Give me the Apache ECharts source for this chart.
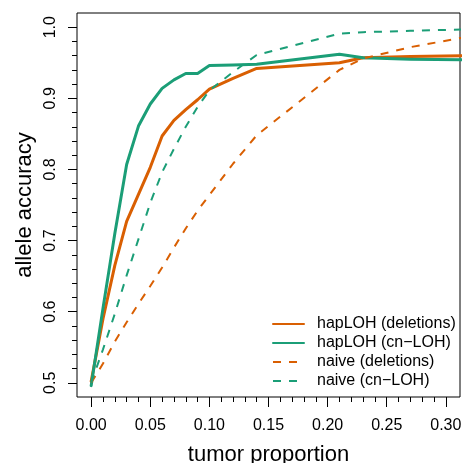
<!DOCTYPE html>
<html><head><meta charset="utf-8">
<script src="https://cdn.jsdelivr.net/npm/echarts@6/dist/echarts.min.js"></script>
<style>html,body{margin:0;padding:0;background:#fff}#c{width:464px;height:463px}</style>
</head><body><div id="c"></div>
<script>
// tumor proportion (x)
const tumorProportion = [0, 0.01, 0.02, 0.03, 0.04, 0.05, 0.06, 0.07, 0.08, 0.09, 0.10, 0.12, 0.14, 0.21, 0.23, 0.27, 0.32];
// allele accuracy per method
const hapDeletions = [0.502, 0.59, 0.665, 0.727, 0.765, 0.803, 0.847, 0.869, 0.884, 0.898, 0.913, 0.928, 0.942, 0.950, 0.957, 0.959, 0.960];
const hapCnLoh     = [0.496, 0.605, 0.71, 0.807, 0.861, 0.892, 0.914, 0.926, 0.935, 0.935, 0.946, 0.947, 0.948, 0.962, 0.957, 0.955, 0.954];
const naiveDeletions = [0.5, 0.527, 0.558, 0.585, 0.611, 0.636, 0.662, 0.69, 0.717, 0.742, 0.764, 0.808, 0.848, 0.940, 0.956, 0.972, 0.987];
const naiveCnLoh     = [0.5, 0.547, 0.597, 0.651, 0.702, 0.753, 0.796, 0.829, 0.86, 0.888, 0.911, 0.937, 0.961, 0.991, 0.993, 0.995, 0.997];
const seriesNames = ['hapLOH (deletions)', 'hapLOH (cn\u2212LOH)', 'naive (deletions)', 'naive (cn\u2212LOH)'];
// ticks
const xTicks = [0, 0.05, 0.10, 0.15, 0.20, 0.25, 0.30];
const xMinorTicks = [0.01,0.02,0.03,0.04,0.06,0.07,0.08,0.09,0.11,0.12,0.13,0.14,0.16,0.17,0.18,0.19,0.21,0.22,0.23,0.24,0.26,0.27,0.28,0.29];
const yTicks = [0.5, 0.6, 0.7, 0.8, 0.9, 1.0];
const yMinorTicks = [0.52,0.54,0.56,0.58,0.62,0.64,0.66,0.68,0.72,0.74,0.76,0.78,0.82,0.84,0.86,0.88,0.92,0.94,0.96,0.98];

const FONT = '"Liberation Sans", Arial, Helvetica, sans-serif';
const ORANGE = '#D95F02', GREEN = '#1B9E77';
function pairs(ys){ return tumorProportion.map((x,i)=>[x, ys[i]]); }

const chart = echarts.init(document.getElementById('c'), null, {renderer:'canvas'});
const xMin = -0.012, xMax = 0.312, yMin = 0.48, yMax = 1.02;
function mkX(ticks, len, labels){
  return {type:'value', position:'bottom', min:xMin, max:xMax,
    axisLine:{show:false, onZero:false}, splitLine:{show:false},
    axisTick:{show:true, inside:false, customValues:ticks, length:len, lineStyle:{color:'#000', width:1}},
    axisLabel:{show:labels, customValues:ticks, margin:21, fontSize:16, fontFamily:FONT, color:'#000',
      formatter:v=>Number(v).toFixed(2)}};
}
function mkY(ticks, len, labels){
  return {type:'value', position:'left', min:yMin, max:yMax,
    axisLine:{show:false, onZero:false}, splitLine:{show:false},
    axisTick:{show:true, inside:false, customValues:ticks, length:len, lineStyle:{color:'#000', width:1}},
    axisLabel:{show:labels, customValues:ticks, rotate:90, margin:18, fontSize:16, fontFamily:FONT, color:'#000',
      formatter:v=>Number(v).toFixed(1)}};
}
const lineSeries = (name, ys, color, dashed) => ({
  name, type:'line', data:pairs(ys), symbol:'none', clip:true, animation:false,
  lineStyle: dashed ? {color, width:2, type:[8,8], cap:'butt'} : {color, width:3, cap:'round', join:'round'},
  itemStyle:{color}
});
chart.setOption({
  animation:false,
  backgroundColor:'#fff',
  grid:{left:77, right:4, top:13, bottom:66, show:true, borderColor:'#000', borderWidth:1, backgroundColor:'transparent', containLabel:false, outerBoundsMode:'none'},
  xAxis:[mkX(xTicks,10,true), mkX(xMinorTicks,5,false)],
  yAxis:[mkY(yTicks,9,true), mkY(yMinorTicks,5,false)],
  legend:{orient:'vertical', left:267, top:311, itemWidth:31, itemHeight:16, itemGap:3,
    data:seriesNames, selectedMode:false,
    itemStyle:{opacity:0},
    textStyle:{fontSize:16, fontFamily:FONT, color:'#000', padding:[0,0,0,8]}},
  graphic:[
    {type:'text', x:268.5, y:454.5, style:{text:'tumor proportion', fontSize:22, fontFamily:FONT, fill:'#000', align:'center', verticalAlign:'middle'}},
    {type:'text', x:25, y:205, rotation:Math.PI/2, style:{text:'allele accuracy', fontSize:22, fontFamily:FONT, fill:'#000', align:'center', verticalAlign:'middle'}}
  ],
  series:[
    lineSeries(seriesNames[0], hapDeletions, ORANGE, false),
    lineSeries(seriesNames[1], hapCnLoh, GREEN, false),
    lineSeries(seriesNames[2], naiveDeletions, ORANGE, true),
    lineSeries(seriesNames[3], naiveCnLoh, GREEN, true)
  ]
});
</script></body></html>
